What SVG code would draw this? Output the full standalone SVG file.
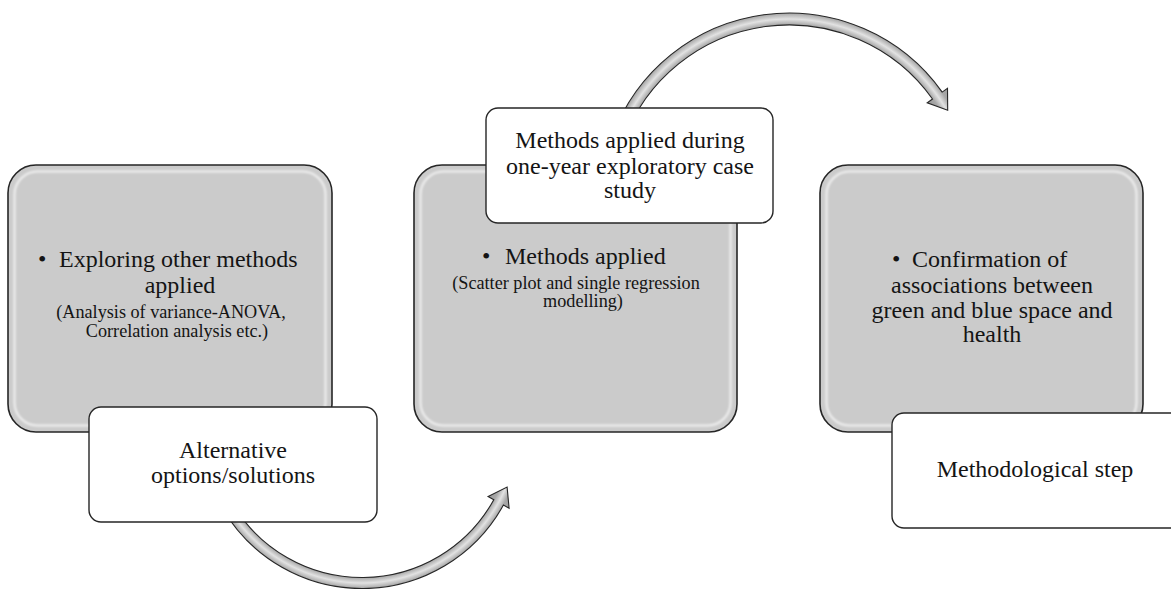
<svg xmlns="http://www.w3.org/2000/svg" width="1171" height="589" viewBox="0 0 1171 589">
  <style>
    .step { fill: #cbcbcb; stroke: #262626; stroke-width: 1.6; }
    .bevel { fill: none; stroke: #ffffff; stroke-width: 2; stroke-opacity: 0.75; filter: url(#soft); }
    .label { fill: #ffffff; stroke: #262626; stroke-width: 1.4; }
    .arrow { stroke: #262626; stroke-width: 1.1; stroke-linejoin: miter; }
    text { font-family: "Liberation Serif", "Times New Roman", serif; fill: #141414; }
    .big { font-size: 24px; }
    .small { font-size: 18.2px; }
    .mid { text-anchor: middle; }
  </style>
  <defs>
    <filter id="soft" x="-5%" y="-5%" width="110%" height="110%">
      <feGaussianBlur stdDeviation="0.8"/>
    </filter>
    <!-- tube shading for the curved arrows: light centre line, darker edges -->
    <radialGradient id="tubeTop" gradientUnits="userSpaceOnUse" cx="789" cy="201" r="195">
      <stop offset="0.88" stop-color="#9c9c9c"/>
      <stop offset="0.905" stop-color="#a8a8a8"/>
      <stop offset="0.933" stop-color="#e2e2e2"/>
      <stop offset="0.962" stop-color="#a8a8a8"/>
      <stop offset="1" stop-color="#9c9c9c"/>
    </radialGradient>
    <radialGradient id="tubeBottom" gradientUnits="userSpaceOnUse" cx="362" cy="427" r="169">
      <stop offset="0.86" stop-color="#9c9c9c"/>
      <stop offset="0.892" stop-color="#a8a8a8"/>
      <stop offset="0.923" stop-color="#e2e2e2"/>
      <stop offset="0.954" stop-color="#a8a8a8"/>
      <stop offset="1" stop-color="#9c9c9c"/>
    </radialGradient>
  </defs>

  <!-- grey step panels -->
  <g id="step-explore">
    <rect class="step" x="8" y="165" width="324" height="267" rx="28"/>
    <rect class="bevel" x="14.5" y="171.5" width="311" height="254" rx="23"/>
    <text class="big" x="38" y="267">•</text>
    <text class="big" x="59" y="267">Exploring other methods</text>
    <text class="big mid" x="180" y="293">applied</text>
    <text class="small mid" x="171" y="318">(Analysis of variance-ANOVA,</text>
    <text class="small mid" x="177" y="337">Correlation analysis etc.)</text>
  </g>

  <g id="step-methods">
    <rect class="step" x="414" y="165" width="323" height="267" rx="28"/>
    <rect class="bevel" x="420.5" y="171.5" width="310" height="254" rx="23"/>
    <text class="big" x="482" y="264">•</text>
    <text class="big" x="505" y="264">Methods applied</text>
    <text class="small mid" x="576" y="289">(Scatter plot and single regression</text>
    <text class="small mid" x="583" y="307">modelling)</text>
  </g>

  <g id="step-confirm">
    <rect class="step" x="820" y="165" width="323" height="267" rx="28"/>
    <rect class="bevel" x="826.5" y="171.5" width="310" height="254" rx="23"/>
    <text class="big" x="892" y="267">•</text>
    <text class="big" x="912" y="267">Confirmation of</text>
    <text class="big mid" x="992" y="293">associations between</text>
    <text class="big mid" x="992" y="318">green and blue space and</text>
    <text class="big mid" x="992" y="342">health</text>
  </g>

  <!-- curved connectors -->
  <g id="connectors">
    <path class="arrow" fill="url(#tubeBottom)"
          d="M222.1,507.8 A161.5,161.5 0 0 0 503.4,505.1 L509.1,508.2 L507.1,487.1 L488.1,496.6 L493.8,499.7 A150.5,150.5 0 0 1 231.7,502.3 Z"/>
    <path class="arrow" fill="url(#tubeTop)"
          d="M612.3,136.7 A188,188 0 0 1 942.2,92.1 L947.5,88.4 L947.7,110.3 L927.2,102.8 L932.5,99.0 A176,176 0 0 0 623.6,140.8 Z"/>
  </g>

  <!-- white caption cards -->
  <g id="card-alternative">
    <rect class="label" x="89" y="407" width="288" height="115" rx="12"/>
    <text class="big mid" x="233" y="458">Alternative</text>
    <text class="big mid" x="233" y="483">options/solutions</text>
  </g>

  <g id="card-case-study">
    <rect class="label" x="486" y="108" width="287" height="115" rx="12"/>
    <text class="big mid" x="630" y="148">Methods applied during</text>
    <text class="big mid" x="630" y="174">one-year exploratory case</text>
    <text class="big mid" x="630" y="198">study</text>
  </g>

  <g id="card-step">
    <rect class="label" x="892" y="413" width="290" height="115" rx="12"/>
    <text class="big mid" x="1035" y="477">Methodological step</text>
  </g>
</svg>
